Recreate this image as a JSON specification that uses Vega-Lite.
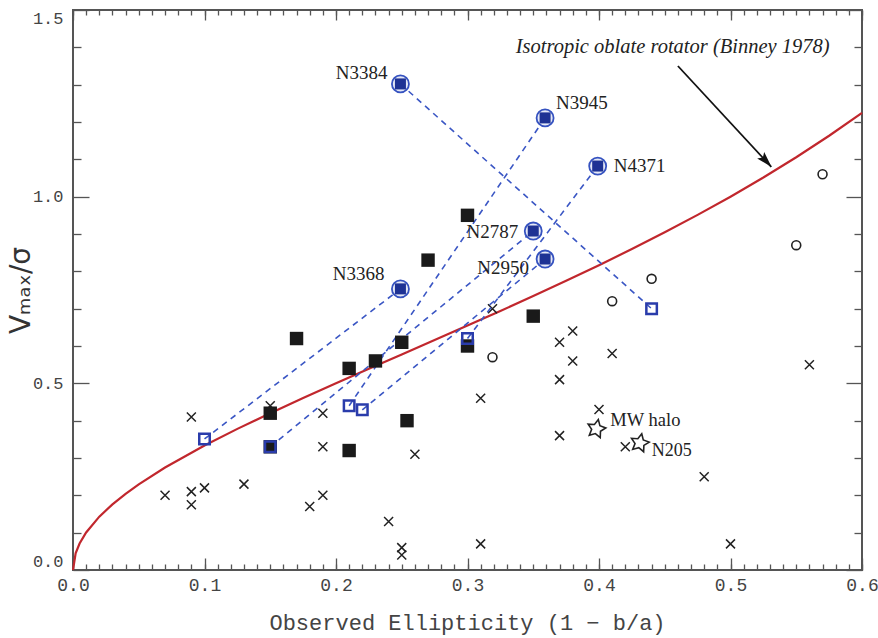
{
  "$schema": "https://vega.github.io/schema/vega-lite/v6.json",
  "width": 789,
  "height": 560,
  "autosize": "none",
  "padding": {"left": 73, "top": 10, "right": 16, "bottom": 68},
  "background": "white",
  "config": {
    "view": {"stroke": "#555", "strokeWidth": 2},
    "axis": {"grid": false, "domain": false, "tickColor": "#555", "tickWidth": 1.3}
  },
  "resolve": {"axis": {"x": "independent", "y": "independent"}},
  "datasets": {
    "curve": [{"e":0,"v":0},{"e":0.002,"v":0.0448},{"e":0.005,"v":0.0709},{"e":0.01,"v":0.1005},{"e":0.02,"v":0.1429},{"e":0.03,"v":0.1759},{"e":0.04,"v":0.2041},{"e":0.05,"v":0.2294},{"e":0.07,"v":0.2744},{"e":0.1,"v":0.3333},{"e":0.125,"v":0.378},{"e":0.15,"v":0.4201},{"e":0.175,"v":0.4606},{"e":0.2,"v":0.5},{"e":0.225,"v":0.5388},{"e":0.25,"v":0.5774},{"e":0.275,"v":0.6159},{"e":0.3,"v":0.6547},{"e":0.325,"v":0.6939},{"e":0.35,"v":0.7338},{"e":0.375,"v":0.7746},{"e":0.4,"v":0.8165},{"e":0.425,"v":0.8597},{"e":0.45,"v":0.9045},{"e":0.475,"v":0.9512},{"e":0.5,"v":1.0},{"e":0.525,"v":1.0513},{"e":0.55,"v":1.1055},{"e":0.575,"v":1.1632},{"e":0.6,"v":1.2247}],
    "crosses": [{"e":0.07,"v":0.20},{"e":0.09,"v":0.41},{"e":0.09,"v":0.21},{"e":0.09,"v":0.175},{"e":0.10,"v":0.22},{"e":0.13,"v":0.23},{"e":0.15,"v":0.44},{"e":0.18,"v":0.17},{"e":0.19,"v":0.42},{"e":0.19,"v":0.33},{"e":0.19,"v":0.20},{"e":0.24,"v":0.13},{"e":0.25,"v":0.06},{"e":0.25,"v":0.04},{"e":0.26,"v":0.31},{"e":0.319,"v":0.70},{"e":0.31,"v":0.46},{"e":0.31,"v":0.07},{"e":0.37,"v":0.61},{"e":0.38,"v":0.64},{"e":0.38,"v":0.56},{"e":0.37,"v":0.51},{"e":0.41,"v":0.58},{"e":0.40,"v":0.43},{"e":0.37,"v":0.36},{"e":0.42,"v":0.33},{"e":0.48,"v":0.25},{"e":0.50,"v":0.07},{"e":0.56,"v":0.55}],
    "circles": [{"e":0.319,"v":0.57},{"e":0.41,"v":0.72},{"e":0.44,"v":0.78},{"e":0.55,"v":0.87},{"e":0.57,"v":1.06}],
    "blacksq": [{"e":0.15,"v":0.42},{"e":0.15,"v":0.33},{"e":0.17,"v":0.62},{"e":0.21,"v":0.54},{"e":0.23,"v":0.56},{"e":0.25,"v":0.61},{"e":0.21,"v":0.32},{"e":0.254,"v":0.40},{"e":0.27,"v":0.83},{"e":0.30,"v":0.95},{"e":0.35,"v":0.68},{"e":0.30,"v":0.60}],
    "pairs": [{"name":"N3384","kind":"in","e":0.249,"v":1.302},{"name":"N3384","kind":"out","e":0.44,"v":0.70},{"name":"N3945","kind":"in","e":0.359,"v":1.211},{"name":"N3945","kind":"out","e":0.21,"v":0.44},{"name":"N4371","kind":"in","e":0.399,"v":1.082},{"name":"N4371","kind":"out","e":0.30,"v":0.62},{"name":"N2787","kind":"in","e":0.35,"v":0.908},{"name":"N2787","kind":"out","e":0.15,"v":0.33},{"name":"N2950","kind":"in","e":0.359,"v":0.833},{"name":"N2950","kind":"out","e":0.22,"v":0.429},{"name":"N3368","kind":"in","e":0.249,"v":0.753},{"name":"N3368","kind":"out","e":0.10,"v":0.351}],
    "stars": [{"name":"MW halo","e":0.398,"v":0.378},{"name":"N205","e":0.431,"v":0.34}],
    "arrow": [{"e":0.46,"v":1.35,"e2":0.531,"v2":1.08}],
    "arrowhead": [{"e":0.5271,"v":1.0954}],
    "note": [{"text":"Isotropic oblate rotator (Binney 1978)","e":0.456,"v":1.401}]
  },
  "encoding": {
    "x": {"field": "e", "type": "quantitative", "scale": {"domain": [0, 0.6], "nice": false, "zero": false}, "axis": null},
    "y": {"field": "v", "type": "quantitative", "scale": {"domain": [0, 1.5], "nice": false, "zero": false}, "axis": null}
  },
  "layer": [
    {
      "data": {"name": "curve"},
      "mark": {"type": "line", "stroke": "#c1272d", "strokeWidth": 2.2},
      "encoding": {
        "x": {"field": "e", "type": "quantitative", "scale": {"domain": [0, 0.6], "nice": false, "zero": false},
          "axis": {"orient": "bottom", "values": [0, 0.1, 0.2, 0.3, 0.4, 0.5, 0.6], "format": ".1f", "tickSize": -12, "labelFlush": false,
            "labelFont": "Liberation Mono", "labelFontSize": 18, "labelColor": "#444", "labelPadding": 18,
            "title": "Observed Ellipticity (1 − b/a)", "titleFont": "Liberation Mono", "titleFontSize": 22, "titleFontWeight": "normal", "titleColor": "#444",
            "titleX": 394, "titleY": 52, "titleBaseline": "middle", "titleAlign": "center"}},
        "y": {"field": "v", "type": "quantitative", "scale": {"domain": [0, 1.5], "nice": false, "zero": false},
          "axis": {"orient": "left", "values": [0, 0.5, 1, 1.5], "format": ".1f", "tickSize": -16, "labelFlush": true,
            "labelFont": "Liberation Mono", "labelFontSize": 17, "labelColor": "#444", "labelPadding": 26,
            "title": "Vₘₐₓ/σ", "titleFont": "DejaVu Sans", "titleFontSize": 28, "titleFontWeight": "normal", "titleColor": "#333",
            "titleX": -52, "titleY": 280, "titleBaseline": "middle", "titleAlign": "center", "titleAngle": -90}}
      }
    },
    {
      "data": {"name": "crosses"},
      "mark": {"type": "point", "shape": "M-1,-1L1,1M-1,1L1,-1", "size": 81, "filled": false, "stroke": "#222", "strokeWidth": 1.5, "opacity": 1},
      "encoding": {
        "x": {"field": "e", "type": "quantitative", "scale": {"domain": [0, 0.6], "nice": false, "zero": false},
          "axis": {"orient": "top", "values": [0, 0.1, 0.2, 0.3, 0.4, 0.5, 0.6], "labels": false, "tickSize": -10, "title": null}},
        "y": {"field": "v", "type": "quantitative", "scale": {"domain": [0, 1.5], "nice": false, "zero": false},
          "axis": {"orient": "right", "values": [0, 0.5, 1, 1.5], "labels": false, "tickSize": -16, "title": null}}
      }
    },
    {
      "data": {"name": "pairs"},
      "mark": {"type": "line", "stroke": "#3a56c4", "strokeWidth": 1.6, "strokeDash": [6, 5]},
      "encoding": {
        "detail": {"field": "name", "type": "nominal"},
        "x": {"field": "e", "type": "quantitative", "scale": {"domain": [0, 0.6], "nice": false, "zero": false},
          "axis": {"orient": "bottom", "values": [0,0.01,0.02,0.03,0.04,0.05,0.06,0.07,0.08,0.09,0.1,0.11,0.12,0.13,0.14,0.15,0.16,0.17,0.18,0.19,0.2,0.21,0.22,0.23,0.24,0.25,0.26,0.27,0.28,0.29,0.3,0.31,0.32,0.33,0.34,0.35,0.36,0.37,0.38,0.39,0.4,0.41,0.42,0.43,0.44,0.45,0.46,0.47,0.48,0.49,0.5,0.51,0.52,0.53,0.54,0.55,0.56,0.57,0.58,0.59,0.6], "labels": false, "tickSize": -6, "title": null}},
        "y": {"field": "v", "type": "quantitative", "scale": {"domain": [0, 1.5], "nice": false, "zero": false},
          "axis": {"orient": "left", "values": [0.1,0.2,0.3,0.4,0.6,0.7,0.8,0.9,1.1,1.2,1.3,1.4], "labels": false, "tickSize": -8, "title": null}}
      }
    },
    {
      "data": {"name": "circles"},
      "mark": {"type": "point", "shape": "circle", "size": 80, "filled": false, "stroke": "#222", "strokeWidth": 1.6, "opacity": 1},
      "encoding": {
        "x": {"field": "e", "type": "quantitative", "scale": {"domain": [0, 0.6], "nice": false, "zero": false},
          "axis": {"orient": "top", "values": [0,0.01,0.02,0.03,0.04,0.05,0.06,0.07,0.08,0.09,0.1,0.11,0.12,0.13,0.14,0.15,0.16,0.17,0.18,0.19,0.2,0.21,0.22,0.23,0.24,0.25,0.26,0.27,0.28,0.29,0.3,0.31,0.32,0.33,0.34,0.35,0.36,0.37,0.38,0.39,0.4,0.41,0.42,0.43,0.44,0.45,0.46,0.47,0.48,0.49,0.5,0.51,0.52,0.53,0.54,0.55,0.56,0.57,0.58,0.59,0.6], "labels": false, "tickSize": -5, "title": null}},
        "y": {"field": "v", "type": "quantitative", "scale": {"domain": [0, 1.5], "nice": false, "zero": false},
          "axis": {"orient": "right", "values": [0.1,0.2,0.3,0.4,0.6,0.7,0.8,0.9,1.1,1.2,1.3,1.4], "labels": false, "tickSize": -8, "title": null}}
      }
    },
    {
      "data": {"name": "blacksq"},
      "mark": {"type": "point", "shape": "square", "size": 180, "filled": true, "fill": "#1a1a1a", "opacity": 1}
    },
    {
      "data": {"name": "pairs"},
      "transform": [{"filter": "datum.kind == 'out'"}],
      "mark": {"type": "point", "shape": "square", "size": 110, "filled": false, "stroke": "#2a3cab", "strokeWidth": 2.5, "opacity": 1}
    },
    {
      "data": {"name": "pairs"},
      "transform": [{"filter": "datum.kind == 'in'"}],
      "mark": {"type": "point", "shape": "circle", "size": 290, "filled": true, "fill": "#e4e8f6", "stroke": "#3552c0", "strokeWidth": 1.8, "opacity": 1}
    },
    {
      "data": {"name": "pairs"},
      "transform": [{"filter": "datum.kind == 'in'"}],
      "mark": {"type": "point", "shape": "square", "size": 121, "filled": true, "fill": "#1e3294", "opacity": 1}
    },
    {
      "data": {"name": "stars"},
      "mark": {"type": "point", "shape": "M0,-1L0.294,-0.405L0.951,-0.309L0.476,0.155L0.588,0.809L0,0.5L-0.588,0.809L-0.476,0.155L-0.951,-0.309L-0.294,-0.405Z", "size": 360, "filled": false, "stroke": "#222", "strokeWidth": 1.6, "opacity": 1, "angle": 12}
    },
    {
      "data": {"name": "arrow"},
      "mark": {"type": "rule", "stroke": "#111", "strokeWidth": 1.8},
      "encoding": {"x2": {"field": "e2"}, "y2": {"field": "v2"}}
    },
    {
      "data": {"name": "arrowhead"},
      "mark": {"type": "point", "shape": "M0,-1L0.6,1L0,0.6L-0.6,1Z", "size": 256, "filled": true, "fill": "#111", "angle": 137, "opacity": 1}
    },
    {
      "data": {"name": "note"},
      "mark": {"type": "text", "font": "Liberation Serif", "fontStyle": "italic", "fontSize": 20.5, "fill": "#222", "align": "center", "baseline": "middle"},
      "encoding": {"text": {"field": "text"}}
    },
    {
      "data": {"name": "pairs"},
      "transform": [{"filter": "datum.kind == 'in' && datum.name == 'N3384'"}],
      "mark": {"type": "text", "font": "Liberation Serif", "fontSize": 19, "fill": "#222", "align": "right", "baseline": "middle", "dx": -13, "dy": -11},
      "encoding": {"text": {"field": "name"}}
    },
    {
      "data": {"name": "pairs"},
      "transform": [{"filter": "datum.kind == 'in' && datum.name == 'N3945'"}],
      "mark": {"type": "text", "font": "Liberation Serif", "fontSize": 19, "fill": "#222", "align": "left", "baseline": "middle", "dx": 11, "dy": -15},
      "encoding": {"text": {"field": "name"}}
    },
    {
      "data": {"name": "pairs"},
      "transform": [{"filter": "datum.kind == 'in' && datum.name == 'N4371'"}],
      "mark": {"type": "text", "font": "Liberation Serif", "fontSize": 19, "fill": "#222", "align": "left", "baseline": "middle", "dx": 16, "dy": 0},
      "encoding": {"text": {"field": "name"}}
    },
    {
      "data": {"name": "pairs"},
      "transform": [{"filter": "datum.kind == 'in' && datum.name == 'N2787'"}],
      "mark": {"type": "text", "font": "Liberation Serif", "fontSize": 19, "fill": "#222", "align": "right", "baseline": "middle", "dx": -15, "dy": 1},
      "encoding": {"text": {"field": "name"}}
    },
    {
      "data": {"name": "pairs"},
      "transform": [{"filter": "datum.kind == 'in' && datum.name == 'N2950'"}],
      "mark": {"type": "text", "font": "Liberation Serif", "fontSize": 19, "fill": "#222", "align": "right", "baseline": "middle", "dx": -16, "dy": 9},
      "encoding": {"text": {"field": "name"}}
    },
    {
      "data": {"name": "pairs"},
      "transform": [{"filter": "datum.kind == 'in' && datum.name == 'N3368'"}],
      "mark": {"type": "text", "font": "Liberation Serif", "fontSize": 19, "fill": "#222", "align": "right", "baseline": "middle", "dx": -16, "dy": -15},
      "encoding": {"text": {"field": "name"}}
    },
    {
      "data": {"name": "stars"},
      "transform": [{"filter": "datum.name == 'MW halo'"}],
      "mark": {"type": "text", "font": "Liberation Serif", "fontSize": 18.5, "fill": "#222", "align": "left", "baseline": "middle", "dx": 14, "dy": -9},
      "encoding": {"text": {"field": "name"}}
    },
    {
      "data": {"name": "stars"},
      "transform": [{"filter": "datum.name == 'N205'"}],
      "mark": {"type": "text", "font": "Liberation Serif", "fontSize": 18, "fill": "#222", "align": "left", "baseline": "middle", "dx": 12, "dy": 8},
      "encoding": {"text": {"field": "name"}}
    }
  ]
}
